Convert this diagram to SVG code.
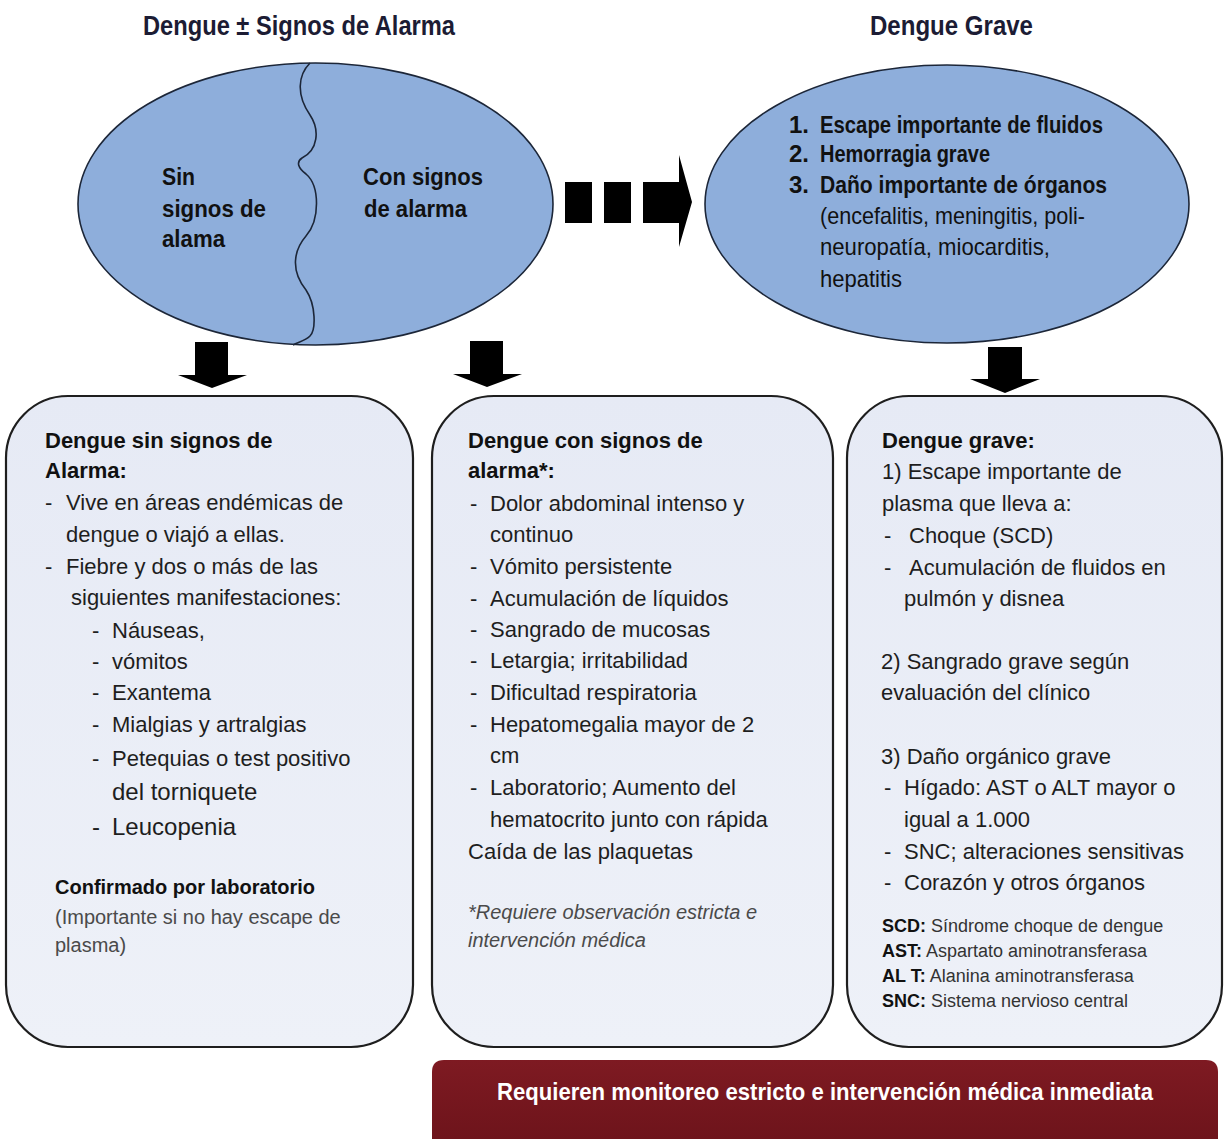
<svg xmlns="http://www.w3.org/2000/svg" width="1227" height="1139" viewBox="0 0 1227 1139">
<defs>
<linearGradient id="boxg" x1="0" y1="0" x2="0" y2="1">
<stop offset="0" stop-color="#e6eaf5"/>
<stop offset="1" stop-color="#eef1f8"/>
</linearGradient>
<linearGradient id="bang" x1="0" y1="0" x2="0" y2="1">
<stop offset="0" stop-color="#7e1a22"/>
<stop offset="1" stop-color="#6e141b"/>
</linearGradient>
<style>
.t{font-family:"Liberation Sans",Arial,sans-serif;font-size:22px;fill:#1e1e1e}
.b{font-weight:bold;fill:#111}
.big{font-size:24px}
.sm{font-size:20px;fill:#4a4a4a}
.lg{font-size:18px;fill:#333}
.lg .k{font-weight:bold;fill:#111}
.it{font-style:italic}
.n{font-family:"Liberation Sans Narrow","Liberation Sans",Arial,sans-serif;font-size:24px;fill:#111}
.title{font-family:"Liberation Sans Narrow","Liberation Sans",Arial,sans-serif;font-size:28px;font-weight:bold;fill:#1c1c34}
.ell{fill:#8eaedb;stroke:#1c2638;stroke-width:1.6}
.box{fill:url(#boxg);stroke:#1e1e1e;stroke-width:2.2}
.arr{fill:#000}
</style>
</defs>
<rect width="1227" height="1139" fill="#ffffff"/>

<g id="title-left"><text class="title" x="143" y="35" textLength="312" lengthAdjust="spacingAndGlyphs">Dengue ± Signos de Alarma</text></g>
<g id="title-right"><text class="title" x="870" y="35" textLength="163" lengthAdjust="spacingAndGlyphs">Dengue Grave</text></g>

<g id="ellipse-left">
<ellipse class="ell" cx="315.5" cy="204" rx="237.5" ry="141"/>
<path d="M310,63 C298,75 296,95 310,115 C320,130 318,150 302,158 C296,162 298,168 306,174 C320,186 320,220 306,236 C294,250 290,270 306,290 C316,305 316,330 310,336 C305,341 298,342 293,345" fill="none" stroke="#1c2638" stroke-width="1.6"/>
<g class="n" font-weight="bold">
<text x="162" y="185" textLength="33" lengthAdjust="spacingAndGlyphs">Sin</text>
<text x="162" y="217" textLength="104" lengthAdjust="spacingAndGlyphs">signos de</text>
<text x="162" y="247" textLength="63" lengthAdjust="spacingAndGlyphs">alama</text>
<text x="363" y="185" textLength="120" lengthAdjust="spacingAndGlyphs">Con signos</text>
<text x="364" y="217" textLength="103" lengthAdjust="spacingAndGlyphs">de alarma</text>
</g>
</g>

<g id="ellipse-right">
<ellipse class="ell" cx="947" cy="204" rx="242" ry="139"/>
<g class="n">
<text x="789" y="133" font-weight="bold">1.</text>
<text x="820" y="133" font-weight="bold" textLength="283" lengthAdjust="spacingAndGlyphs">Escape importante de fluidos</text>
<text x="789" y="162" font-weight="bold">2.</text>
<text x="820" y="162" font-weight="bold" textLength="170" lengthAdjust="spacingAndGlyphs">Hemorragia grave</text>
<text x="789" y="193" font-weight="bold">3.</text>
<text x="820" y="193" font-weight="bold" textLength="287" lengthAdjust="spacingAndGlyphs">Daño importante de órganos</text>
<text x="820" y="224" textLength="265" lengthAdjust="spacingAndGlyphs">(encefalitis, meningitis, poli-</text>
<text x="820" y="255" textLength="230" lengthAdjust="spacingAndGlyphs">neuropatía, miocarditis,</text>
<text x="820" y="287" textLength="82" lengthAdjust="spacingAndGlyphs">hepatitis</text>
</g>
</g>

<g id="connectors">
<rect class="arr" x="565" y="182" width="27" height="41"/>
<rect class="arr" x="604" y="182" width="27" height="41"/>
<path class="arr" d="M643,182 H679 V155 L692,202 L679,247 V223 H643 Z"/>
<path class="arr" d="M195,342 H228 V375 H247 L212,388 L178,375 H195 Z"/>
<path class="arr" d="M470,341 H503 V374 H522 L487,387 L453,374 H470 Z"/>
<path class="arr" d="M988,347 H1022 V379 H1040 L1005,393 L970,379 H988 Z"/>
</g>

<g id="box-sin-signos">
<rect class="box" x="6" y="396" width="407" height="651" rx="62" ry="62"/>
<g class="t">
<text class="b" x="45" y="448">Dengue sin signos de</text>
<text class="b" x="45" y="478">Alarma:</text>
<text x="45" y="510">-</text><text x="66" y="510">Vive en áreas endémicas de</text>
<text x="66" y="542">dengue o viajó a ellas.</text>
<text x="45" y="574">-</text><text x="66" y="574">Fiebre y dos o más de las</text>
<text x="71" y="605">siguientes manifestaciones:</text>
<text x="92" y="638">-</text><text x="112" y="638">Náuseas,</text>
<text x="92" y="669">-</text><text x="112" y="669">vómitos</text>
<text x="92" y="700">-</text><text x="112" y="700">Exantema</text>
<text x="92" y="732">-</text><text x="112" y="732">Mialgias y artralgias</text>
<text x="92" y="766">-</text><text x="112" y="766">Petequias o test positivo</text>
<text class="big" x="112" y="800">del torniquete</text>
<text class="big" x="92" y="835">-</text><text class="big" x="112" y="835">Leucopenia</text>
<text class="b" x="55" y="894" font-size="20">Confirmado por laboratorio</text>
<text class="sm" x="55" y="924">(Importante si no hay escape de</text>
<text class="sm" x="55" y="952">plasma)</text>
</g>
</g>

<g id="box-con-signos">
<rect class="box" x="432" y="396" width="401" height="651" rx="62" ry="62"/>
<g class="t">
<text class="b" x="468" y="448">Dengue con signos de</text>
<text class="b" x="468" y="478">alarma*:</text>
<text x="470" y="511">-</text><text x="490" y="511">Dolor abdominal intenso y</text>
<text x="490" y="542">continuo</text>
<text x="470" y="574">-</text><text x="490" y="574">Vómito persistente</text>
<text x="470" y="606">-</text><text x="490" y="606">Acumulación de líquidos</text>
<text x="470" y="637">-</text><text x="490" y="637">Sangrado de mucosas</text>
<text x="470" y="668">-</text><text x="490" y="668">Letargia; irritabilidad</text>
<text x="470" y="700">-</text><text x="490" y="700">Dificultad respiratoria</text>
<text x="470" y="732">-</text><text x="490" y="732">Hepatomegalia mayor de 2</text>
<text x="490" y="763">cm</text>
<text x="470" y="795">-</text><text x="490" y="795">Laboratorio; Aumento del</text>
<text x="490" y="827">hematocrito junto con rápida</text>
<text x="468" y="859">Caída de las plaquetas</text>
<text class="sm it" x="468" y="919">*Requiere observación estricta e</text>
<text class="sm it" x="468" y="947">intervención médica</text>
</g>
</g>

<g id="box-grave">
<rect class="box" x="847" y="396" width="375" height="651" rx="62" ry="62"/>
<g class="t">
<text class="b" x="882" y="448">Dengue grave:</text>
<text x="882" y="479">1) Escape importante de</text>
<text x="882" y="511">plasma que lleva a:</text>
<text x="884" y="543">-</text><text x="909" y="543">Choque (SCD)</text>
<text x="884" y="575">-</text><text x="909" y="575">Acumulación de fluidos en</text>
<text x="904" y="606">pulmón y disnea</text>
<text x="881" y="669">2) Sangrado grave según</text>
<text x="881" y="700">evaluación del clínico</text>
<text x="881" y="764">3) Daño orgánico grave</text>
<text x="884" y="795">-</text><text x="904" y="795">Hígado: AST o ALT mayor o</text>
<text x="904" y="827">igual a 1.000</text>
<text x="884" y="859">-</text><text x="904" y="859">SNC; alteraciones sensitivas</text>
<text x="884" y="890">-</text><text x="904" y="890">Corazón y otros órganos</text>
</g>
<g class="t lg">
<text x="882" y="932"><tspan class="k">SCD:</tspan> Síndrome choque de dengue</text>
<text x="882" y="957"><tspan class="k">AST:</tspan> Aspartato aminotransferasa</text>
<text x="882" y="982"><tspan class="k">AL T:</tspan> Alanina aminotransferasa</text>
<text x="882" y="1007"><tspan class="k">SNC:</tspan> Sistema nervioso central</text>
</g>
</g>

<g id="banner">
<path d="M444,1060 H1206 Q1218,1060 1218,1072 V1139 H432 V1072 Q432,1060 444,1060 Z" fill="url(#bang)"/>
<text x="497" y="1100" font-family="'Liberation Sans Narrow','Liberation Sans',Arial,sans-serif" font-size="24" font-weight="bold" fill="#ffffff" textLength="656" lengthAdjust="spacingAndGlyphs">Requieren monitoreo estricto e intervención médica inmediata</text>
</g>
</svg>
